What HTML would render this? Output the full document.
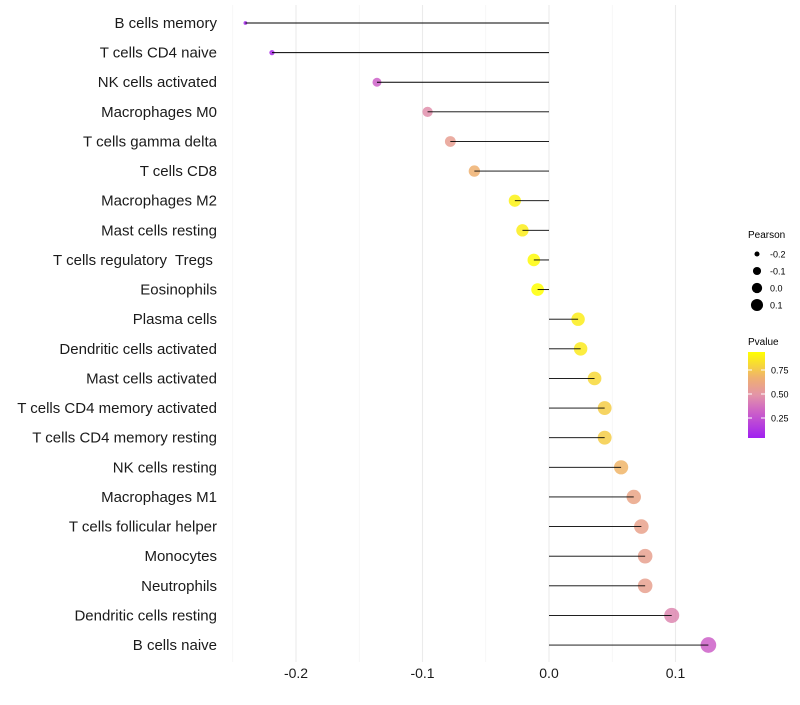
<!DOCTYPE html>
<html><head><meta charset="utf-8"><style>
body{margin:0;background:#fff;font-family:"Liberation Sans",sans-serif}
text{white-space:pre}
</style></head><body>
<svg id="c" width="800" height="700" xmlns="http://www.w3.org/2000/svg">
<defs><linearGradient id="pg" x1="0" y1="1" x2="0" y2="0">
<stop offset="0" stop-color="#A020F0"/><stop offset="0.3" stop-color="#CC60C8"/><stop offset="0.5" stop-color="#E394A8"/><stop offset="0.7" stop-color="#EFB070"/><stop offset="1" stop-color="#FFFF00"/>
</linearGradient></defs>
<g id="grid"></g><g id="dots"></g><g id="marks"></g><g id="labels"></g>
<g font-size="9.5">
<text x="748" y="238" font-size="10">Pearson</text>
<g id="sizeleg"></g>
</g>
<g font-size="9.5">
<text x="748" y="345" font-size="10">Pvalue</text>
<rect x="748" y="352" width="17" height="86" fill="url(#pg)"/>
<g id="cleg"></g>
</g>
</svg>
<script>
const categories=["B cells memory","T cells CD4 naive","NK cells activated","Macrophages M0","T cells gamma delta","T cells CD8","Macrophages M2","Mast cells resting","T cells regulatory  Tregs ","Eosinophils","Plasma cells","Dendritic cells activated","Mast cells activated","T cells CD4 memory activated","T cells CD4 memory resting","NK cells resting","Macrophages M1","T cells follicular helper","Monocytes","Neutrophils","Dendritic cells resting","B cells naive"];
const pearson=[-0.240,-0.219,-0.136,-0.096,-0.078,-0.059,-0.027,-0.021,-0.012,-0.009,0.023,0.025,0.036,0.044,0.044,0.057,0.067,0.073,0.076,0.076,0.097,0.126];
const pvalue=[0.03,0.06,0.30,0.48,0.58,0.70,0.95,0.93,0.98,1.0,0.93,0.92,0.85,0.81,0.81,0.72,0.62,0.60,0.59,0.59,0.45,0.30];
const xTicks=[-0.2,-0.1,0.0,0.1];
const xTickLabels=["-0.2","-0.1","0.0","0.1"];
const minorTicks=[-0.25,-0.15,-0.05,0.05];
const sizeLegend=[-0.2,-0.1,0.0,0.1];
const colorLegend=[0.25,0.50,0.75];
const NS="http://www.w3.org/2000/svg";
const X=v=>549+v*1265;
const Y=i=>23+i*29.62;
const R=v=>1.12*Math.sqrt(Math.max(2.5,33.1+126*v));
const PY=p=>442-p*96;
const stops=[[0,[160,32,240]],[0.3,[204,96,200]],[0.5,[227,148,168]],[0.7,[239,176,112]],[1,[255,255,0]]];
function col(p){for(let i=1;i<stops.length;i++){if(p<=stops[i][0]){const [p0,a]=stops[i-1],[p1,b]=stops[i];const t=(p-p0)/(p1-p0);return `rgb(${a.map((x,k)=>Math.round(x+(b[k]-x)*t))})`;}}return 'rgb(255,255,0)';}
function mk(t,at,par){const e=document.createElementNS(NS,t);for(const k in at)e.setAttribute(k,at[k]);document.getElementById(par).appendChild(e);return e;}
minorTicks.forEach(v=>{const l=mk('line',{x1:X(v),x2:X(v),y1:5,y2:662,stroke:'#f2f2f2','stroke-width':0.6},'grid');

});
xTicks.forEach((v,i)=>{const l=mk('line',{x1:X(v),x2:X(v),y1:5,y2:662,stroke:'#ebebeb','stroke-width':1.1},'grid');


const t=mk('text',{x:X(v),y:678,'text-anchor':'middle','font-size':14,fill:'#1a1a1a'},'labels');t.textContent=xTickLabels[i];

});
categories.forEach((c,i)=>{
const d=mk('circle',{cx:X(pearson[i]),cy:Y(i),r:R(pearson[i]),fill:col(pvalue[i]),'fill-opacity':0.85},'dots');


const l=mk('line',{x1:X(0),x2:X(pearson[i]),y1:Y(i),y2:Y(i),stroke:'#000','stroke-width':0.9},'marks');


const t=mk('text',{x:217,y:Y(i)+5,'text-anchor':'end','font-size':15,fill:'#1a1a1a'},'labels');t.textContent=c;

});
sizeLegend.forEach((v,i)=>{const y=254+i*17;
const d=mk('circle',{cx:757,cy:y,r:R(v)*0.8},'sizeleg');


const t=mk('text',{x:770,y:y+3.5,'font-size':9},'sizeleg');t.textContent=v.toFixed(1);

});
colorLegend.forEach(v=>{const y=PY(v);
mk('line',{x1:748,x2:752,y1:y,y2:y,stroke:'#fff'},'cleg');
mk('line',{x1:761,x2:765,y1:y,y2:y,stroke:'#fff'},'cleg');
const t=mk('text',{x:771,y:y+3.5,'font-size':9},'cleg');t.textContent=v.toFixed(2);

});
</script>
</body></html>
